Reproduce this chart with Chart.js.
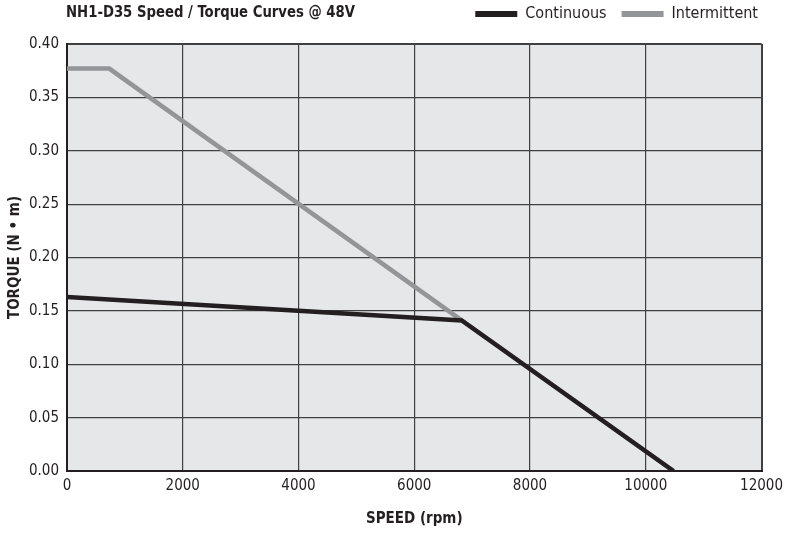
<!DOCTYPE html>
<html>
<head>
<meta charset="utf-8">
<script src="https://cdn.jsdelivr.net/npm/chart.js@4.4.1/dist/chart.umd.min.js"></script>
<style>
	html, body { margin: 0; padding: 0; background: #ffffff; }
	#wrap { width: 789px; height: 534px; }
</style>
</head>
<body>
<div id="wrap"><canvas id="torque_chart" width="789" height="534"></canvas></div>
<script>
const FONT = "'Liberation Sans Narrow', 'DejaVu Sans Condensed', sans-serif";

// data
const chartTitle = 'NH1-D35 Speed / Torque Curves @ 48V';
const seriesNames = ['Continuous', 'Intermittent'];
const speedContinuous = [0, 6820, 10480];
const torqueContinuous = [0.163, 0.141, 0.0];
const speedIntermittent = [0, 730, 6820];
const torqueIntermittent = [0.377, 0.377, 0.141];
const xTicks = [0, 2000, 4000, 6000, 8000, 10000, 12000];
const yTicks = [0, 0.05, 0.10, 0.15, 0.20, 0.25, 0.30, 0.35, 0.40];

const toPoints = (xs, ys) => xs.map((x, i) => ({x: x, y: ys[i]}));

// grey plot background, title text, legend placement
const plotDecor = {
	id: 'plotDecor',
	beforeInit: (chart) => {
		const fit = chart.legend.fit;
		chart.legend.fit = function () {
			fit.bind(chart.legend)();
			this.height = 44;
		};
	},
	afterLayout: (chart) => {
		// pull the legend row up next to the title
		chart.legend.top -= 9;
		chart.legend.bottom -= 9;
	},
	beforeDraw: (chart) => {
		const {ctx, chartArea} = chart;
		ctx.save();
		ctx.fillStyle = '#e6e7e8';
		ctx.fillRect(chartArea.left, chartArea.top, chartArea.right - chartArea.left, chartArea.bottom - chartArea.top);
		ctx.restore();
	},
	afterDraw: (chart) => {
		const {ctx, chartArea} = chart;
		ctx.save();
		ctx.fillStyle = '#231f20';
		ctx.font = 'bold 16px ' + FONT;
		ctx.textBaseline = 'middle';
		ctx.textAlign = 'left';
		const w = ctx.measureText(chartTitle).width;
		ctx.translate(chartArea.left - 1, 13);
		ctx.scale(289 / w, 1);
		ctx.fillText(chartTitle, 0, 0);
		ctx.restore();
	}
};

const edgeWidth = (c, last) => (c.index === 0 || c.index === last) ? 2 : 1.2;

const ctx = document.getElementById('torque_chart');
const torqueChart = new Chart(ctx, {
	type: 'line',
	data: {
		datasets: [
			{
				label: seriesNames[0],
				data: toPoints(speedContinuous, torqueContinuous),
				borderColor: '#231f20',
				backgroundColor: '#231f20',
				borderWidth: 4.6,
				pointRadius: 0,
				tension: 0,
				borderJoinStyle: 'miter',
			},
			{
				label: seriesNames[1],
				data: toPoints(speedIntermittent, torqueIntermittent),
				borderColor: '#939598',
				backgroundColor: '#939598',
				borderWidth: 4.6,
				pointRadius: 0,
				tension: 0,
				borderJoinStyle: 'miter',
			},
		]
	},
	options: {
		responsive: false,
		animation: false,
		layout: {
			padding: {left: 0, right: 16, top: 0, bottom: 0}
		},
		scales: {
			x: {
				type: 'linear',
				min: 0,
				max: 12000,
				afterBuildTicks: (axis) => { axis.ticks = xTicks.map(v => ({value: v})); },
				afterFit: (axis) => { axis.height = 63; },
				ticks: {
					color: '#231f20',
					font: {family: FONT, size: 15},
					padding: 6,
					maxRotation: 0,
					callback: (v) => String(v),
				},
				grid: {
					color: '#404040',
					lineWidth: (c) => edgeWidth(c, xTicks.length - 1),
					drawTicks: false,
				},
				border: {color: '#231f20', width: 2},
				title: {
					display: true,
					text: 'SPEED (rpm)',
					color: '#231f20',
					font: {family: FONT, size: 15, weight: 'bold'},
					padding: {top: 0, bottom: 6},
				},
			},
			y: {
				type: 'linear',
				min: 0,
				max: 0.4,
				afterBuildTicks: (axis) => { axis.ticks = yTicks.map(v => ({value: v})); },
				afterFit: (axis) => { axis.width = 67; },
				ticks: {
					color: '#231f20',
					font: {family: FONT, size: 15},
					padding: 8,
					callback: (v) => v.toFixed(2),
				},
				grid: {
					color: '#404040',
					lineWidth: (c) => edgeWidth(c, yTicks.length - 1),
					drawTicks: false,
				},
				border: {color: '#231f20', width: 2},
				title: {
					display: true,
					text: 'TORQUE (N \u2022 m)',
					color: '#231f20',
					font: {family: FONT, size: 15, weight: 'bold'},
					padding: {top: 6, bottom: 0},
				},
			},
		},
		plugins: {
			legend: {
				display: true,
				position: 'top',
				align: 'end',
				labels: {
					color: '#231f20',
					font: {family: FONT, size: 16},
					boxWidth: 42,
					boxHeight: 6,
					padding: 15,
					generateLabels: (chart) => Chart.defaults.plugins.legend.labels.generateLabels(chart)
						.map(item => Object.assign(item, {lineWidth: 0})),
				},
			},
			tooltip: {enabled: false},
		},
	},
	plugins: [plotDecor]
});
</script>
</body>
</html>
